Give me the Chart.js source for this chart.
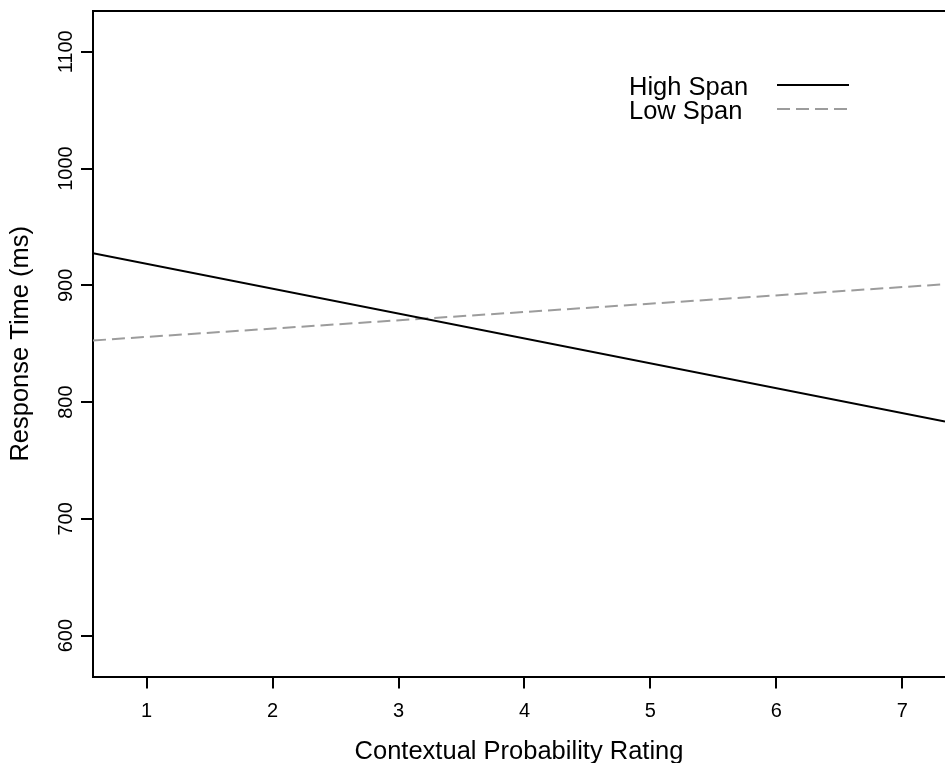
<!DOCTYPE html>
<html>
<head>
<meta charset="utf-8">
<script src="https://cdn.jsdelivr.net/npm/chart.js@4/dist/chart.umd.min.js"></script>
<style>
  html, body { margin: 0; padding: 0; background: #fff; overflow: hidden; }
  canvas { display: block; }
</style>
</head>
<body>
<canvas id="myChart" width="945" height="763"></canvas>
<script>
// data (fitted lines, values at the plot edges)
const xTicks = [1, 2, 3, 4, 5, 6, 7];
const yTicks = [600, 700, 800, 900, 1000, 1100];
const xEnds = [0.574, 7.339];
const yRange = [565, 1135];
const seriesNames = ['High Span', 'Low Span'];
const highSpan = [927.5, 783.4];
const lowSpan = [852.8, 901.0];

const FONT = "'Liberation Sans', Arial, Helvetica, sans-serif";

function points(vals) {
    return xEnds.map((x, i) => ({ x: x, y: vals[i] }));
}

// box top, tick labels and the legend, drawn like R's base graphics
const rStyle = {
    id: 'rStyle',
    afterDraw(chart) {
        const ctx = chart.ctx;
        const area = chart.chartArea;
        const xs = chart.scales.x;
        const ys = chart.scales.y;
        ctx.save();
        ctx.strokeStyle = '#000';
        ctx.lineWidth = 2;
        ctx.beginPath();
        ctx.moveTo(area.left - 1, area.top);
        ctx.lineTo(area.right, area.top);
        ctx.stroke();

        ctx.fillStyle = '#000';
        ctx.font = '20px ' + FONT;
        ctx.textAlign = 'center';
        ctx.textBaseline = 'alphabetic';
        xs.ticks.forEach(t => {
            ctx.fillText(String(t.value), xs.getPixelForValue(t.value), 716.5);
        });
        ys.ticks.forEach(t => {
            ctx.save();
            ctx.translate(72, ys.getPixelForValue(t.value));
            ctx.rotate(-Math.PI / 2);
            ctx.fillText(String(t.value), 0, 0);
            ctx.restore();
        });

        // legend: text on the left, line sample on the right
        ctx.font = '25.5px ' + FONT;
        ctx.textAlign = 'left';
        chart.data.datasets.forEach((ds, i) => {
            const base = 95 + i * 24;
            ctx.fillText(ds.label, 629, base);
            ctx.strokeStyle = ds.borderColor;
            ctx.lineWidth = ds.borderWidth;
            ctx.setLineDash(ds.borderDash || []);
            ctx.beginPath();
            ctx.moveTo(777, base - 10);
            ctx.lineTo(849, base - 10);
            ctx.stroke();
        });
        ctx.restore();
    }
};

const axisGrid = {
    display: true,
    drawOnChartArea: false,
    drawTicks: true,
    tickLength: 12,
    color: '#000',
    lineWidth: 2
};

new Chart(document.getElementById('myChart').getContext('2d'), {
    type: 'line',
    data: {
        datasets: [{
            label: seriesNames[0],
            data: points(highSpan),
            borderColor: '#000000',
            borderWidth: 2,
            pointRadius: 0
        }, {
            label: seriesNames[1],
            data: points(lowSpan),
            borderColor: '#9c9c9c',
            borderWidth: 2,
            borderDash: [13, 6],
            pointRadius: 0
        }]
    },
    options: {
        responsive: false,
        animation: false,
        layout: { padding: { top: 11, left: 0, right: 0, bottom: 0 } },
        plugins: {
            legend: { display: false },
            tooltip: { enabled: false }
        },
        scales: {
            x: {
                type: 'linear',
                min: xEnds[0],
                max: xEnds[1],
                afterBuildTicks: s => { s.ticks = xTicks.map(v => ({ value: v })); },
                afterFit: s => { s.height = 86.5; },
                ticks: { display: false },
                grid: axisGrid,
                border: { display: true, color: '#000', width: 2 },
                title: {
                    display: true,
                    text: 'Contextual Probability Rating',
                    color: '#000',
                    font: { family: FONT, size: 25.5, lineHeight: 0.9 },
                    padding: { top: 0, bottom: 0 }
                }
            },
            y: {
                type: 'linear',
                min: yRange[0],
                max: yRange[1],
                afterBuildTicks: s => { s.ticks = yTicks.map(v => ({ value: v })); },
                afterFit: s => { s.width = 93; },
                ticks: { display: false },
                grid: axisGrid,
                border: { display: true, color: '#000', width: 2 },
                title: {
                    display: true,
                    text: 'Response Time (ms)',
                    color: '#000',
                    font: { family: FONT, size: 25.5, lineHeight: 1 },
                    padding: { top: 8.4, bottom: 0 }
                }
            }
        }
    },
    plugins: [rStyle]
});
</script>
</body>
</html>
